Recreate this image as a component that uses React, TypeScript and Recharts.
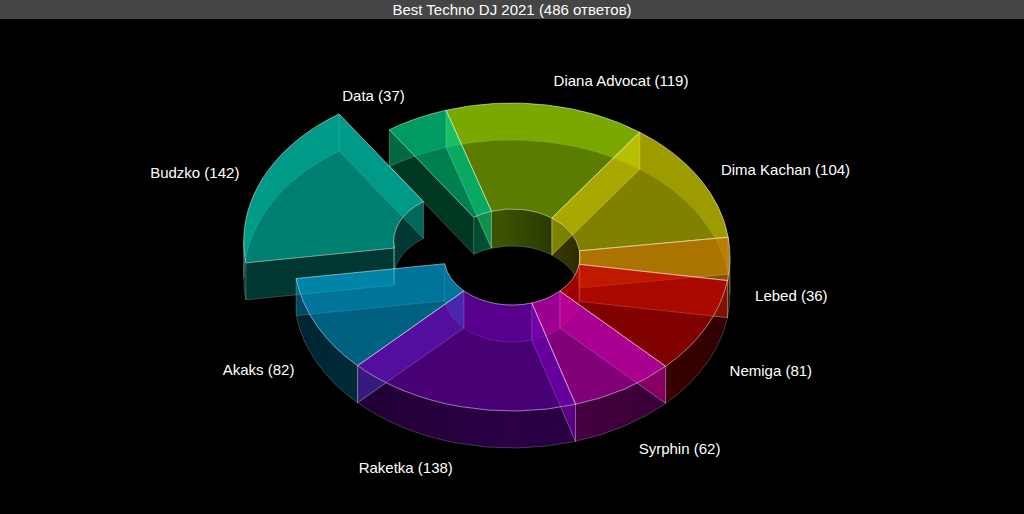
import { PieChart, Pie, Cell } from "recharts";

const names = ["Diana Advocat", "Dima Kachan", "Lebed", "Nemiga", "Syrphin", "Raketka", "Akaks", "Budzko", "Data"];
const votes = [119, 104, 36, 81, 62, 138, 82, 142, 37];
const colors = ["#96d000", "#d8d500", "#d88a00", "#d50000", "#d500c8", "#7800c3", "#00a0d5", "#00d5bb", "#00d585"];
const exploded: Record<string, number> = { Budzko: 55 };
const labelNudge: Record<string, number[]> = {
    "Diana Advocat": [3, -1],
    Data: [-1, -3],
    Akaks: [0, -2],
    Nemiga: [1, -2],
    Raketka: [0, 1],
    Syrphin: [2, 2],
};
const farWallOpacity: Record<string, number> = { "Diana Advocat": 0.62 };

const pieData = names.map((name, i) => ({ name, value: votes[i] }));

const W = 1024;
const H = 514;
const CX = 512;
const CY = 257;
const INNER = 68;
const OUTER = 218;
const TILT = 154 / 218;
const DEPTH = 37;
const START = 107.6;
const RAD = Math.PI / 180;

function offsetOf(p: any) {
    const dist = exploded[p.name] ?? 0;
    const mid = ((p.startAngle + p.endAngle) / 2) * RAD;
    return { ox: dist * Math.cos(mid), oy: -dist * TILT * Math.sin(mid) };
}

function pt(p: any, r: number, deg: number, z: number) {
    const { ox, oy } = offsetOf(p);
    const x = p.cx + ox + r * Math.cos(deg * RAD);
    const y = p.cy + oy - TILT * r * Math.sin(deg * RAD) + z;
    return `${x.toFixed(2)} ${y.toFixed(2)}`;
}

function arc(r: number, large: boolean, sweep: number, to: string) {
    return `A ${r} ${(r * TILT).toFixed(2)} 0 ${large ? 1 : 0} ${sweep} ${to}`;
}

function ring(p: any, z: number) {
    const { startAngle: s, endAngle: e, innerRadius: ri, outerRadius: ro } = p;
    const large = Math.abs(s - e) > 180;
    return `M ${pt(p, ro, s, z)} ${arc(ro, large, 1, pt(p, ro, e, z))} L ${pt(p, ri, e, z)} ${arc(ri, large, 0, pt(p, ri, s, z))} Z`;
}

function curvedWall(p: any, r: number, a: number, b: number) {
    return `M ${pt(p, r, a, 0)} ${arc(r, false, 1, pt(p, r, b, 0))} L ${pt(p, r, b, DEPTH)} ${arc(r, false, 0, pt(p, r, a, DEPTH))} Z`;
}

function radialWall(p: any, deg: number) {
    return `M ${pt(p, p.innerRadius, deg, 0)} L ${pt(p, p.outerRadius, deg, 0)} L ${pt(p, p.outerRadius, deg, DEPTH)} L ${pt(p, p.innerRadius, deg, DEPTH)} Z`;
}

// split a clockwise span where the wall turns from the far half to the near half
function spans(s: number, e: number) {
    const cuts: number[] = [];
    for (let k = -4; k <= 4; k++) {
        const c = k * 180;
        if (c < s && c > e) cuts.push(c);
    }
    const stops = [s, ...cuts.sort((a, b) => b - a), e];
    return stops.slice(0, -1).map((a, i) => ({ a, b: stops[i + 1], far: Math.sin(((a + stops[i + 1]) / 2) * RAD) > 0 }));
}

function BottomFace(p: any) {
    return <path d={ring(p, DEPTH)} fill={p.fill} fillOpacity={0.2} stroke="#fff" strokeOpacity={0.12} strokeWidth={0.7} />;
}

function Walls(p: any) {
    const { startAngle: s, endAngle: e, innerRadius: ri, outerRadius: ro, fill } = p;
    const id = `${p.name}`.replace(/\s/g, "");
    const startCovered = Math.cos(s * RAD) > 0;
    const endCovered = Math.cos(e * RAD) < 0;
    const line = { stroke: "#fff", strokeOpacity: 0.2, strokeWidth: 0.7 };
    return (
        <g>
            <defs>
                <linearGradient id={`out-${id}`} gradientUnits="userSpaceOnUse" x1={CX - OUTER} x2={CX + OUTER} y1={0} y2={0}>
                    <stop offset="0" stopColor={fill} stopOpacity={0.03} />
                    <stop offset="0.5" stopColor={fill} stopOpacity={0.2} />
                    <stop offset="1" stopColor={fill} stopOpacity={0.03} />
                </linearGradient>
                <linearGradient id={`in-${id}`} gradientUnits="userSpaceOnUse" x1={CX - INNER} x2={CX + INNER} y1={0} y2={0}>
                    <stop offset="0" stopColor={fill} stopOpacity={0.08} />
                    <stop offset="0.4" stopColor={fill} stopOpacity={0.26} />
                    <stop offset="1" stopColor={fill} stopOpacity={0} />
                </linearGradient>
            </defs>
            {spans(s, e).map((sp) => (
                <path key={`o${sp.a}`} d={curvedWall(p, ro, sp.a, sp.b)} fill={sp.far ? fill : `url(#out-${id})`} fillOpacity={sp.far ? farWallOpacity[p.name] ?? 0.45 : 1} {...line} />
            ))}
            {spans(s, e).map((sp) => (
                <path key={`i${sp.a}`} d={curvedWall(p, ri, sp.a, sp.b)} fill={sp.far ? `url(#in-${id})` : fill} fillOpacity={sp.far ? 1 : 0.45} {...line} />
            ))}
            <path d={radialWall(p, s)} fill={fill} fillOpacity={startCovered ? 0.45 : 0.08} {...line} />
            <path d={radialWall(p, e)} fill={fill} fillOpacity={endCovered ? 0.45 : 0.08} {...line} />
        </g>
    );
}

function TopFace(p: any) {
    return <path d={ring(p, 0)} fill={p.fill} fillOpacity={0.5} stroke="#fff" strokeOpacity={0.45} strokeWidth={0.9} />;
}

function renderLabel(p: any) {
    const sin = Math.sin(p.midAngle * RAD);
    const cos = Math.cos(p.midAngle * RAD);
    const dist = exploded[p.name] ?? 0;
    const [dx, dy] = labelNudge[p.name] ?? [0, 0];
    const rx = OUTER * 1.115 + dist;
    const ry = OUTER * TILT * (1.115 + 0.05 * Math.abs(sin)) + dist * TILT;
    const x = p.cx + rx * cos + dx;
    const y = p.cy - ry * sin + (sin < 0 ? DEPTH - 1 : 2) + dy;
    return (
        <text x={x} y={y} fill="#fff" fontSize={15} fontFamily="Liberation Sans" textAnchor={cos > 0 ? "start" : "end"} dominantBaseline="central">
            {`${p.name} (${p.value})`}
        </text>
    );
}

function layer(key: string, shape: any, label?: any) {
    return (
        <Pie
            key={key}
            data={pieData}
            dataKey="value"
            nameKey="name"
            cx={CX}
            cy={CY}
            innerRadius={INNER}
            outerRadius={OUTER}
            startAngle={START}
            endAngle={START - 360}
            stroke="none"
            shape={shape}
            label={label ?? false}
            labelLine={false}
            isAnimationActive={false}
        >
            {names.map((n, i) => (
                <Cell key={n} fill={colors[i]} />
            ))}
        </Pie>
    );
}

export default function App() {
    return (
        <div style={{ position: "absolute", left: 0, top: 0, width: W, height: H, background: "#000", overflow: "hidden" }}>
            <PieChart width={W} height={H} margin={{ top: 0, right: 0, bottom: 0, left: 0 }}>
                {layer("bottom", BottomFace)}
                {layer("walls", Walls)}
                {layer("top", TopFace, renderLabel)}
            </PieChart>
            <div
                style={{
                    position: "absolute",
                    left: 0,
                    top: 0,
                    width: W,
                    height: 19,
                    lineHeight: "19px",
                    background: "#454545",
                    color: "#fff",
                    textAlign: "center",
                    fontFamily: "Liberation Sans",
                    fontSize: 15,
                }}
            >
                Best Techno DJ 2021 (486 ответов)
            </div>
        </div>
    );
}
